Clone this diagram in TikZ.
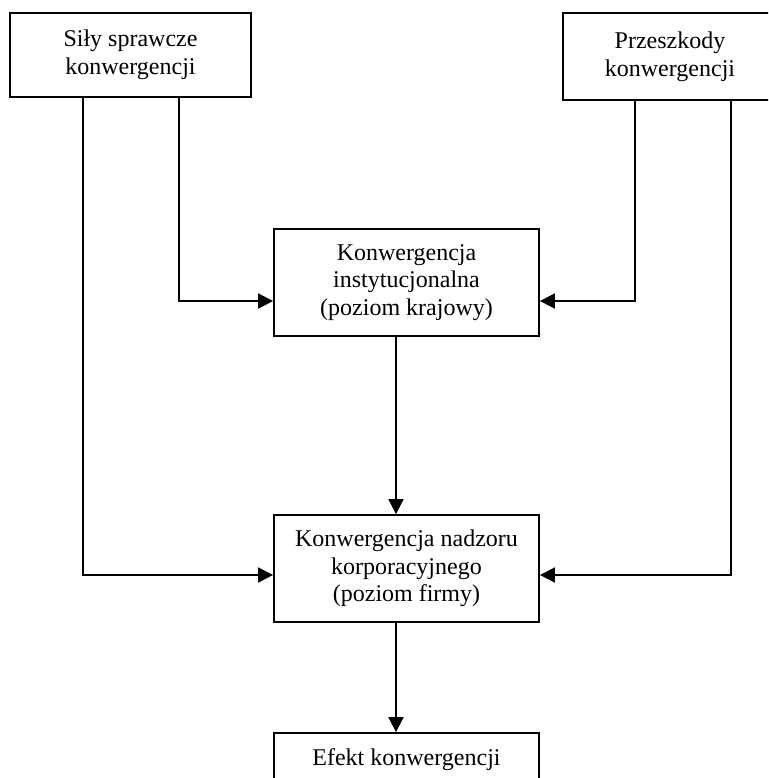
\documentclass[tikz,border=0pt]{standalone}
\usepackage{fontspec}
\setmainfont{Liberation Serif}
\usetikzlibrary{arrows.meta}
\begin{document}
\begin{tikzpicture}[x=1pt,y=-1pt,
  box/.style={draw, line width=1.8pt, rectangle, inner sep=0pt, align=center,
    font=\fontsize{24}{27.6}\selectfont},
  arr/.style={line width=1.8pt, -{Triangle[length=15pt,width=15pt]}}]
\clip (0,0) rectangle (768,778);
\fill[white] (0,0) rectangle (768,778);
\node[box, minimum width=241pt, minimum height=84pt] (b1) at (130.5,55) {Siły sprawcze\\konwergencji};
\node[box, minimum width=214pt, minimum height=87pt] (b2) at (670,56.5) {Przeszkody\\konwergencji};
\node[box, minimum width=265pt, minimum height=107pt] (b3) at (406.5,282.5) {Konwergencja\\instytucjonalna\\(poziom krajowy)};
\node[box, minimum width=265pt, minimum height=107pt] (b4) at (406.5,568.5) {Konwergencja nadzoru\\korporacyjnego\\(poziom firmy)};
\node[box, minimum width=265pt, minimum height=54pt] (b5) at (406.5,760) {Efekt konwergencji};
\coordinate (l1) at (83,0);
\coordinate (l2) at (179,0);
\coordinate (r1) at (635,0);
\coordinate (r2) at (731,0);
\coordinate (v) at (396,0);
\coordinate (ya) at (0,301);
\coordinate (yb) at (0,575);
\draw[arr] (b1.south -| l2) |- (b3.west |- ya);
\draw[arr] (b1.south -| l1) |- (b4.west |- yb);
\draw[arr] (b2.south -| r1) |- (b3.east |- ya);
\draw[arr] (b2.south -| r2) |- (b4.east |- yb);
\draw[arr] (b3.south -| v) -- (b4.north -| v);
\draw[arr] (b4.south -| v) -- (b5.north -| v);
\end{tikzpicture}
\end{document}
